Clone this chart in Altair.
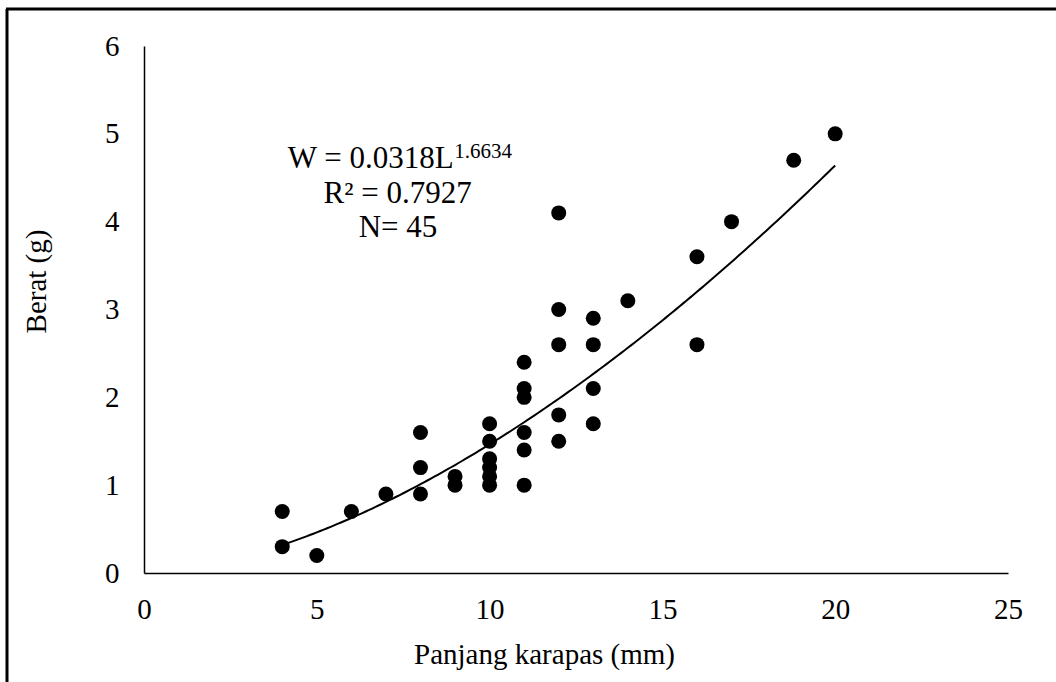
import altair as alt
import pandas as pd

# Data
panjang = [4, 4, 5, 6, 7, 8, 8, 8, 9, 9, 10, 10, 10, 10, 10, 10,
           11, 11, 11, 11, 11, 11, 12, 12, 12, 12, 12, 13, 13, 13, 13,
           14, 16, 16, 17, 18.8, 20]
berat = [0.7, 0.3, 0.2, 0.7, 0.9, 1.6, 1.2, 0.9, 1.1, 1.0, 1.7, 1.5, 1.3, 1.2, 1.1, 1.0,
         2.4, 2.1, 2.0, 1.6, 1.4, 1.0, 4.1, 3.0, 2.6, 1.8, 1.5, 2.9, 2.6, 2.1, 1.7,
         3.1, 3.6, 2.6, 4.0, 4.7, 5.0]

# Power trendline stated on the chart: W = a * L^b, drawn over L = 4..20
coef_a = 0.0318
coef_b = 1.6634
trend_range = [4, 20]

x_ticks = [0, 5, 10, 15, 20, 25]
y_ticks = [0, 1, 2, 3, 4, 5, 6]

eq_main = ["W = 0.0318L"]
eq_sup = ["1.6634"]
eq_lines = ["R² = 0.7927", "N= 45"]

FONT = "Liberation Serif"

df = pd.DataFrame({"L": panjang, "W": berat})

xs = alt.Scale(domain=[0, 25], nice=False, zero=True)
ys = alt.Scale(domain=[0, 6], nice=False, zero=True)

x_axis = alt.Axis(values=x_ticks, format="d", grid=False, ticks=False, tickSize=0,
                  domainColor="black", domainWidth=1.5, labelFont=FONT, labelFontSize=29,
                  labelColor="black", labelPadding=22, labelFlush=False,
                  title="Panjang karapas (mm)", titleFont=FONT,
                  titleFontSize=29, titleFontWeight="normal", titleColor="black",
                  titleX=400, titleY=90, titleAlign="center", titleBaseline="alphabetic")
y_axis = alt.Axis(values=y_ticks, format="d", grid=False, ticks=False, tickSize=0,
                  domainColor="black", domainWidth=1.5, labelFont=FONT, labelFontSize=29,
                  labelColor="black", labelPadding=25, labelFlush=False,
                  title="Berat (g)", titleFont=FONT, titleFontSize=29,
                  titleFontWeight="normal", titleColor="black", titleAngle=-90,
                  titleX=-99, titleY=235, titleAlign="center", titleBaseline="alphabetic")

points = alt.Chart(df).mark_circle(color="black", opacity=1, size=225).encode(
    x=alt.X("L:Q", scale=xs, axis=x_axis),
    y=alt.Y("W:Q", scale=ys, axis=y_axis),
)

trend = alt.Chart(alt.sequence(trend_range[0], trend_range[1] + 0.1, 0.1, as_="L")).transform_calculate(
    W=f"{coef_a} * pow(datum.L, {coef_b})"
).mark_line(color="black", strokeWidth=2).encode(
    x=alt.X("L:Q", scale=xs), y=alt.Y("W:Q", scale=ys))

ann_main = alt.Chart(pd.DataFrame({"x": [8.96], "y": [4.61], "t": eq_main})).mark_text(
    font=FONT, fontSize=31, align="right", baseline="alphabetic", color="black"
).encode(x=alt.X("x:Q", scale=xs), y=alt.Y("y:Q", scale=ys), text="t:N")

ann_sup = alt.Chart(pd.DataFrame({"x": [8.98], "y": [4.73], "t": eq_sup})).mark_text(
    font=FONT, fontSize=21, align="left", baseline="alphabetic", color="black"
).encode(x=alt.X("x:Q", scale=xs), y=alt.Y("y:Q", scale=ys), text="t:N")

ann_lines = alt.Chart(pd.DataFrame({"x": [7.34, 7.35], "y": [4.21, 3.83], "t": eq_lines})).mark_text(
    font=FONT, fontSize=31, align="center", baseline="alphabetic", color="black"
).encode(x=alt.X("x:Q", scale=xs), y=alt.Y("y:Q", scale=ys), text="t:N")

one = alt.Chart(pd.DataFrame({"k": [0]}))
border_left = one.mark_rule(color="black", strokeWidth=3).encode(
    x=alt.value(-137), y=alt.value(-37), y2=alt.value(640))
border_top = one.mark_rule(color="black", strokeWidth=3).encode(
    x=alt.value(-138), x2=alt.value(920), y=alt.value(-37))

chart = alt.layer(points, trend, ann_main, ann_sup, ann_lines, border_left, border_top).properties(
    width=864, height=527,
    autosize=alt.AutoSizeParams(type="none"),
    padding={"left": 144, "top": 46, "right": 48, "bottom": 109},
    background="white",
).configure_view(strokeWidth=0)

chart.save("out.html", embed_options={"renderer": "svg", "actions": False})
